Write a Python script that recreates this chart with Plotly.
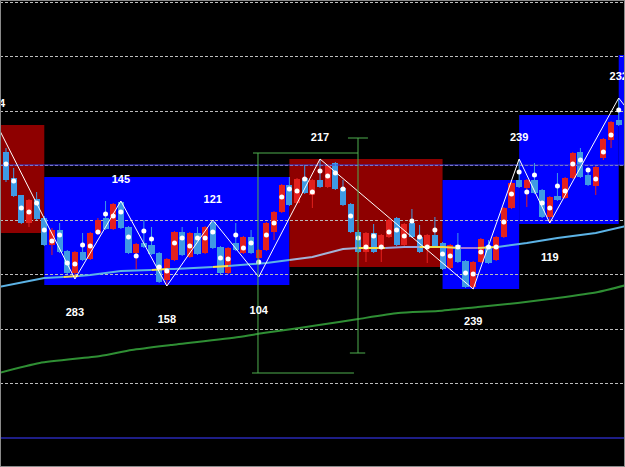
import plotly.graph_objects as go
import numpy as np

# ---------------- data (price units) ----------------
candle_idx = list(range(81))
opens = [315, 289, 272, 244, 268, 249, 222, 237, 216, 194, 215, 208, 234, 249, 238, 265, 240, 214, 224, 222,
         214, 187, 207, 235, 210, 234, 214, 245, 220, 194, 224, 214, 230, 209, 217, 235, 255, 282, 264, 289,
         272, 287, 280, 304, 279, 263, 235, 215, 234, 220, 230, 249, 222, 244, 230, 220, 232, 224, 199, 222,
         206, 180, 205, 221, 207, 230, 259, 287, 279, 287, 277, 250, 271, 269, 289, 315, 292, 281, 309, 327, 347]
highs = [319, 299, 272, 268, 275, 251, 239, 244, 217, 216, 234, 235, 249, 266, 264, 266, 241, 224, 247, 240,
         215, 209, 236, 240, 235, 240, 241, 247, 221, 220, 244, 231, 237, 218, 245, 256, 283, 290, 289, 302,
         288, 307, 302, 305, 287, 264, 237, 235, 243, 233, 248, 250, 244, 258, 242, 233, 250, 225, 223, 234,
         207, 206, 229, 227, 231, 260, 285, 307, 288, 304, 278, 271, 294, 290, 315, 319, 299, 301, 329, 346, 368]
lows = [285, 270, 243, 240, 247, 221, 212, 214, 193, 189, 206, 207, 232, 237, 237, 238, 213, 198, 219, 212,
        184, 181, 206, 211, 209, 212, 213, 218, 193, 193, 216, 213, 213, 204, 216, 227, 254, 261, 263, 273,
        259, 279, 279, 277, 261, 234, 214, 205, 214, 205, 229, 221, 221, 229, 214, 204, 219, 197, 198, 204,
        179, 178, 204, 203, 206, 229, 258, 279, 260, 273, 249, 244, 266, 268, 288, 289, 281, 272, 307, 319, 341]
closes = [287, 271, 244, 267, 248, 222, 237, 215, 194, 215, 207, 234, 247, 238, 263, 239, 214, 223, 220, 213,
          185, 208, 235, 212, 234, 213, 240, 219, 194, 219, 217, 230, 214, 217, 244, 255, 282, 262, 288, 274,
          287, 280, 301, 278, 262, 235, 215, 234, 215, 232, 247, 222, 243, 230, 215, 232, 220, 198, 222, 205,
          180, 205, 228, 204, 230, 259, 284, 280, 287, 274, 250, 270, 267, 289, 314, 290, 282, 300, 328, 345, 342]
dots = [303, 286, 259, 255, 264, 237, 226, 232, 204, 203, 222, 221, 235, 253, 251, 255, 230, 211, 236, 228,
        200, 196, 224, 229, 221, 229, 229, 235, 209, 208, 232, 219, 224, 205, 232, 244, 270, 278, 276, 288,
        275, 296, 291, 294, 278, 251, 229, 220, 231, 220, 235, 237, 231, 246, 230, 220, 237, 213, 211, 220,
        194, 193, 215, 220, 220, 245, 273, 295, 275, 292, 264, 259, 281, 276, 303, 307, 297, 288, 315, 332, 357]

# fast moving average (with colour segments)
ma_x = [-1, 5, 7.5, 9.5, 11, 15, 19, 21, 22, 27, 29, 34, 37, 40, 42, 44, 46, 49.5, 52, 54, 57, 59.3, 61.6,
        64.2, 68, 72, 77, 81]
ma_y = [180, 189, 190, 191, 192, 196, 197, 198, 198, 200, 201, 204, 207, 210, 214, 218, 219, 219, 220, 220,
        220, 219, 219, 220, 224, 229, 234, 241]
ma_segments = [(-1, 7.5, "#5cb3e6"), (7.5, 9.5, "#f2e24a"), (9.5, 19, "#5cb3e6"), (19, 21, "#f2e24a"),
               (21, 27, "#5cb3e6"), (27, 29, "#f2e24a"), (29, 37, "#5cb3e6"), (37, 46, "#a4b2d6"),
               (46, 49.5, "#f2e24a"), (49.5, 54, "#9aa4dc"), (54, 59.3, "#f2e24a"), (59.3, 61.6, "#a070d8"),
               (61.6, 64.2, "#f2e24a"), (64.2, 81, "#5cb3e6")]

# slow moving average
slow_x = [-0.9, 4.4, 12.3, 16.4, 21.5, 30.4, 33.6, 38.3, 43.5, 46, 51.2, 56.4, 61.6, 66.8, 72, 77.3, 81]
slow_y = [94, 104, 111, 117, 122, 130, 134, 139, 145, 148, 154, 156, 160, 164, 169, 175, 182]

# zigzag
zz_x = [-1.31, 9, 15, 21, 27, 33, 41, 61, 67, 71, 80, 82]
zz_y = [344, 188, 266, 181, 247, 190, 308, 178, 308, 244, 369, 349]

# zigzag labels
label_text = ["224", "283", "145", "158", "121", "104", "217", "239", "239", "119", "232"]
label_x = [-1.31, 9, 15, 21, 27, 33, 41, 61, 67, 71, 80]
label_y = [363, 154, 287, 147, 267, 156, 329, 145, 329, 209, 390]

# zones (boxes)
box_x0 = [-2, 5, 37, 57, 67, 80]
box_x1 = [5, 37, 57, 67, 80, 84]
box_lo = [234, 182, 200, 178, 243, 302]
box_hi = [342, 290, 308, 287, 352, 412]
box_col = ["#8e0000", "#0000ff", "#8e0000", "#0000ff", "#0000ff", "#0000ff"]

# horizontal levels
level_mid = 302
level_low = 29

# measurement tool (green)
meas_x = [32.9, 32.9, None, 32.25, 45.96, None, 45.96, 45.96, None, 44.65, 47.26, None,
          44.9, 46.9, None, 32.12, 45.43]
meas_y = [314, 94, None, 314, 314, None, 329, 114, None, 329, 329, None,
          114, 114, None, 94, 94]

# ---------------- figure ----------------
fig = go.Figure()

for x0, x1, lo, hi, c in zip(box_x0, box_x1, box_lo, box_hi, box_col):
    fig.add_shape(type="rect", x0=x0, x1=x1, y0=lo, y1=hi, xref="x", yref="y",
                  fillcolor=c, line_width=0, layer="below")

# horizontal navy levels
fig.add_trace(go.Scatter(x=[-2, 84], y=[level_mid, level_mid], mode="lines",
                         line=dict(color="rgba(60,60,210,0.55)", width=2), hoverinfo="skip"))
fig.add_trace(go.Scatter(x=[-2, 84], y=[level_low, level_low], mode="lines",
                         line=dict(color="#1e1e86", width=2), hoverinfo="skip"))

# slow MA
fig.add_trace(go.Scatter(x=slow_x, y=slow_y, mode="lines",
                         line=dict(color="#2f8f34", width=2, shape="spline", smoothing=0.6),
                         hoverinfo="skip"))

# candles
red = "#e3211e"
blue = "#3f9ae4"
cols = [red if c > o else blue for o, c in zip(opens, closes)]
base = [min(o, c) for o, c in zip(opens, closes)]
height = [abs(c - o) for o, c in zip(opens, closes)]

for colr in (red, blue):
    wx, wy = [], []
    for i, h, l, cc in zip(candle_idx, highs, lows, cols):
        if cc == colr:
            wx += [i, i, None]
            wy += [l, h, None]
    fig.add_trace(go.Scatter(x=wx, y=wy, mode="lines", line=dict(color=colr, width=1), hoverinfo="skip"))

fig.add_trace(go.Bar(x=candle_idx, y=height, base=base, width=0.8,
                     marker=dict(color=cols, line=dict(width=0)), hoverinfo="skip"))

# fast MA segments
mx = np.array(ma_x)
my = np.array(ma_y)
for s, e, c in ma_segments:
    m = (mx >= s) & (mx <= e)
    fig.add_trace(go.Scatter(x=mx[m], y=my[m], mode="lines", line=dict(color=c, width=2),
                             hoverinfo="skip"))

# dots
fig.add_trace(go.Scatter(x=candle_idx, y=dots, mode="markers",
                         marker=dict(color="white", size=5, line=dict(width=0)), hoverinfo="skip"))

# zigzag
fig.add_trace(go.Scatter(x=zz_x, y=zz_y, mode="lines", line=dict(color="#ffffff", width=1),
                         hoverinfo="skip"))

# measurement tool
fig.add_trace(go.Scatter(x=meas_x, y=meas_y, mode="lines", line=dict(color="#4fae4f", width=1),
                         hoverinfo="skip"))

# labels
fig.add_trace(go.Scatter(x=label_x, y=label_y, mode="text", text=label_text,
                         textfont=dict(color="white", size=11, family="Liberation Sans, Arial",
                                       weight="bold"),
                         cliponaxis=True, hoverinfo="skip"))

fig.add_shape(type="rect", xref="paper", yref="paper", x0=0, x1=1, y0=0, y1=1,
              line=dict(color="#8a8a8a", width=2), layer="above")

fig.update_layout(
    width=625, height=467,
    margin=dict(l=0, r=0, t=0, b=0, pad=0),
    paper_bgcolor="black", plot_bgcolor="black",
    showlegend=False, bargap=0,
    xaxis=dict(range=[-0.783, 80.82], showgrid=False, zeroline=False, showticklabels=False,
               ticks="", showline=False, fixedrange=True),
    yaxis=dict(range=[0, 467], showgrid=True, gridcolor="#bdbdbd", gridwidth=1, griddash="3px,2px",
               tick0=29, dtick=54.5, zeroline=False, showticklabels=False, ticks="", showline=False,
               fixedrange=True),
)

fig.write_html("out.html", post_script="document.body.style.margin='0';",
               config={"displayModeBar": False})
